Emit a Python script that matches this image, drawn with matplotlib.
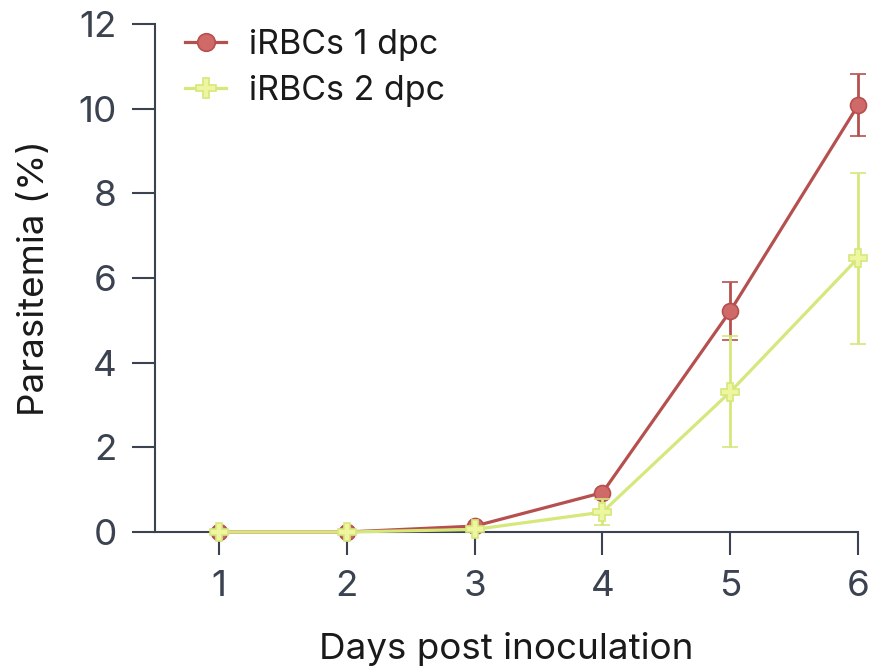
import matplotlib
matplotlib.use("Agg")
import matplotlib.pyplot as plt

days = [1, 2, 3, 4, 5, 6]
red_vals = [0.0, 0.0, 0.14, 0.93, 5.22, 10.08]
red_err = [0.0, 0.0, 0.0, 0.0, 0.68, 0.73]
green_vals = [0.0, 0.0, 0.06, 0.47, 3.31, 6.47]
green_err = [0.0, 0.0, 0.0, 0.30, 1.31, 2.02]
labels = ["iRBCs 1 dpc", "iRBCs 2 dpc"]

plt.rcParams['font.family'] = ['Inter', 'DejaVu Sans']
ink = '#3b4250'

fig = plt.figure(figsize=(8.72, 6.67), dpi=100)
ax = fig.add_axes([0.178, 0.2024, 0.806, 0.7616])

red_line = '#b5504f'
red_fill = '#d06a68'
green_line = '#d6e77c'
green_fill = '#eef7a0'

eb1 = ax.errorbar(days, red_vals, yerr=red_err, color=red_line, lw=2.3,
                  marker='o', ms=11.5, mfc=red_fill, mec=red_line, mew=1.2,
                  capsize=5.5, capthick=2, elinewidth=2, label=labels[0],
                  clip_on=False, zorder=3)
eb2 = ax.errorbar(days, green_vals, yerr=green_err, color=green_line, lw=2.3,
                  marker='P', ms=13, mfc=green_fill, mec=green_line, mew=1.2,
                  capsize=5.5, capthick=2, elinewidth=2, label=labels[1],
                  clip_on=False, zorder=4)
for eb in (eb1, eb2):
    for c in eb[1]:
        c.set_clip_on(False)
    for b in eb[2]:
        b.set_clip_on(False)

ax.set_xlim(0.5, 6)
ax.set_ylim(0, 12)
ax.set_xticks(days)
ax.set_yticks([0, 2, 4, 6, 8, 10, 12])
for s in ['top', 'right']:
    ax.spines[s].set_visible(False)
for s in ['left', 'bottom']:
    ax.spines[s].set_color(ink)
    ax.spines[s].set_linewidth(1.5)
ax.tick_params(axis='both', colors=ink, labelsize=26.5, length=16.5, width=1.5, pad=11)
ax.set_xlabel('Days post inoculation', fontsize=26.5, color='#1a1a1a', labelpad=21)
ax.set_ylabel('Parasitemia (%)', fontsize=26.5, color='#1a1a1a', labelpad=20)

leg = ax.legend(handles=[eb1[0], eb2[0]], labels=labels, loc='upper left',
                bbox_to_anchor=(0.014, 1.03), frameon=False,
                fontsize=24.5, handlelength=1.2, handletextpad=0.68, labelspacing=0.4,
                borderaxespad=0.2, markerscale=1.1)
for t in leg.get_texts():
    t.set_color('#1a1a1a')

fig.savefig('out.png', dpi=100)
